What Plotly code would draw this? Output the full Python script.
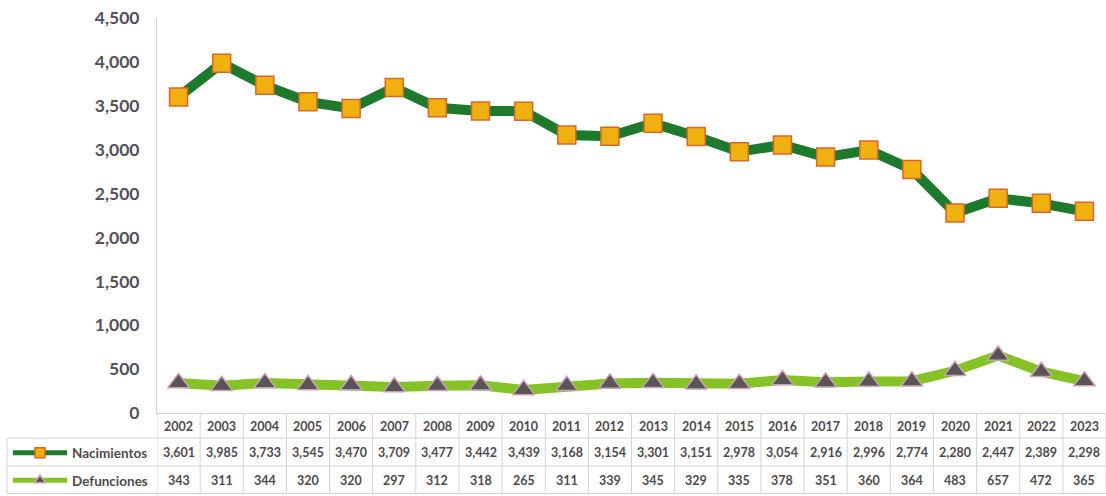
import plotly.graph_objects as go

years = ["2002", "2003", "2004", "2005", "2006", "2007", "2008", "2009", "2010", "2011",
         "2012", "2013", "2014", "2015", "2016", "2017", "2018", "2019", "2020", "2021",
         "2022", "2023"]
nacimientos = [3601, 3985, 3733, 3545, 3470, 3709, 3477, 3442, 3439, 3168,
               3154, 3301, 3151, 2978, 3054, 2916, 2996, 2774, 2280, 2447,
               2389, 2298]
defunciones = [343, 311, 344, 320, 320, 297, 312, 318, 265, 311,
               339, 345, 329, 335, 378, 351, 360, 364, 483, 657,
               472, 365]
y_ticks = [0, 500, 1000, 1500, 2000, 2500, 3000, 3500, 4000, 4500]

W, H = 1106, 496
PLOT_L, PLOT_T, PLOT_B = 157, 18, 414


def py(pixel_y):
    return 1 - pixel_y / H


def px(pixel_x):
    return pixel_x / W


TXT = "#4f4a4e"
GRID = "#d8d0da"
FONT = "Lato"

NAC_LINE = "#1d7a2c"
DEF_LINE = "#84c226"
NAC_MARK = dict(symbol="square", color="#f0b010", line=dict(color="#d8682a", width=1.5))
DEF_MARK = dict(symbol="triangle-up", color="#5a5456", line=dict(color="#c9a3b5", width=1.5))

fig = go.Figure()
fig.add_trace(go.Scatter(
    x=years, y=nacimientos, name="Nacimientos", mode="lines+markers",
    line=dict(color=NAC_LINE, width=10), marker=dict(size=18, **NAC_MARK),
    showlegend=False,
))
fig.add_trace(go.Scatter(
    x=years, y=defunciones, name="Defunciones", mode="lines+markers",
    line=dict(color=DEF_LINE, width=10), marker=dict(size=19, **DEF_MARK),
    showlegend=False,
))
# legend keys (table row headers)
fig.add_trace(go.Scatter(
    x=[None], y=[None], name="Nacimientos", mode="lines+markers",
    line=dict(color=NAC_LINE, width=5), marker=dict(size=10, **NAC_MARK),
    legend="legend",
))
fig.add_trace(go.Scatter(
    x=[None], y=[None], name="Defunciones", mode="lines+markers",
    line=dict(color=DEF_LINE, width=5), marker=dict(size=10, **DEF_MARK),
    legend="legend2",
))

# table text
rows = [(years, py(427.5), False), (nacimientos, py(453), True), (defunciones, py(481), True)]
for vals, yy, fmt in rows:
    for i, v in enumerate(vals):
        fig.add_annotation(
            x=i, xref="x", y=yy, yref="paper",
            text=f"{v:,}" if fmt else str(v), showarrow=False,
            font=dict(family=FONT, size=12.5, color=TXT, weight="bold"),
            xanchor="center", yanchor="middle",
        )

shapes = []
n = len(years)
for i in range(n + 1):
    shapes.append(dict(type="line", xref="x", yref="paper", x0=i - 0.5, x1=i - 0.5,
                       y0=py(PLOT_B), y1=py(494.5), line=dict(color=GRID, width=1)))
for yy in (439, 467, 494.5):
    shapes.append(dict(type="line", xref="paper", yref="paper", x0=px(7), x1=1,
                       y0=py(yy), y1=py(yy), line=dict(color=GRID, width=1)))
shapes.append(dict(type="line", xref="paper", yref="paper", x0=px(7), x1=px(7),
                   y0=py(439), y1=py(494.5), line=dict(color=GRID, width=1)))

legend_common = dict(
    x=px(8), xanchor="left", yanchor="middle", bgcolor="rgba(0,0,0,0)",
    borderwidth=0, itemwidth=54,
    font=dict(family=FONT, size=13.5, color=TXT, weight="bold"),
)

fig.update_layout(
    width=W, height=H,
    margin=dict(l=0, r=0, t=0, b=0),
    paper_bgcolor="white", plot_bgcolor="white",
    shapes=shapes,
    xaxis=dict(type="category", range=[-0.5, n - 0.5], domain=[px(PLOT_L), 1],
               showticklabels=False, automargin=False,
               showgrid=False, zeroline=False, showline=True, linecolor=GRID,
               linewidth=1, ticks=""),
    yaxis=dict(range=[0, 4500], domain=[py(PLOT_B), py(PLOT_T)], automargin=False,
               tickvals=y_ticks, tickformat=",", showgrid=False,
               zeroline=False, showline=True, linecolor=GRID, linewidth=1,
               ticks="", ticklabelstandoff=13,
               tickfont=dict(family=FONT, size=17.5, color="#55505a", weight="bold")),
    legend=dict(y=py(453), **legend_common),
    legend2=dict(y=py(481), **legend_common),
    showlegend=True,
)

fig.write_html("out.html", config={"displayModeBar": False},
               post_script="document.body.style.margin='0px';")
